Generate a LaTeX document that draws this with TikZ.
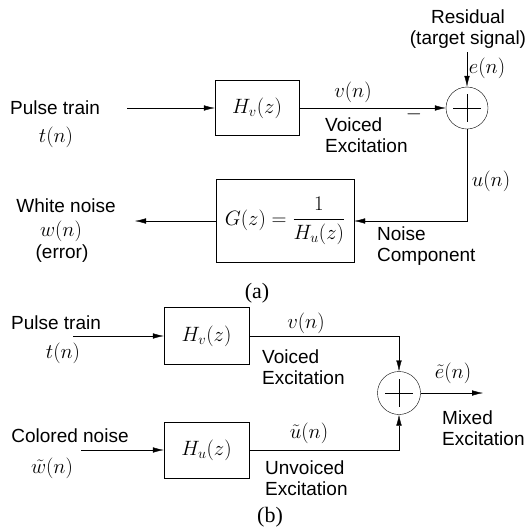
\documentclass[tikz,border=0pt]{standalone}
\usepackage{amsmath}
\usepackage{fontspec}
\setmainfont{Liberation Sans}
\newfontfamily\capfont{Liberation Serif}
\usetikzlibrary{positioning,arrows.meta,calc}

\tikzset{
  blk/.style={draw,thin,minimum width=84pt,minimum height=55pt,inner sep=0pt,
    font=\fontsize{21.5}{24}\selectfont},
  sumnode/.style={draw,thin,circle,minimum size=42pt,inner sep=0pt},
  txt/.style={font=\fontsize{19}{20.5}\selectfont,inner sep=0pt},
  mth/.style={font=\fontsize{21.5}{24}\selectfont,inner sep=0pt},
  captxt/.style={font=\capfont\fontsize{22}{24}\selectfont,inner sep=0pt},
  sig/.style={thin,-{Latex[length=11pt,width=5.5pt]}},
}

\begin{document}
\begin{tikzpicture}[x=1pt,y=-1pt]
  \useasboundingbox (0,0) rectangle (525,531);

  % (a) analysis
  \node[blk] (hva) at (257,108) {$H_v(z)$};
  \node[sumnode] (sa) at (467,108) {};
  \draw[thin] ($(sa)+(0,-14)$) -- ($(sa)+(0,14)$) ($(sa)+(-14,0)$) -- ($(sa)+(14,0)$);
  \node[blk,minimum width=138pt,minimum height=83pt] (ga) at (285,221) {$G(z)=\dfrac{1}{H_u(z)}$};

  \node[txt] (pta) at (55,108) {Pulse train};
  \node[mth] (ta) at (56,137) {$t(n)$};
  \coordinate (ina) at (127,108);
  \draw[sig] (ina) -- (hva);

  \draw[sig] (hva) -- (sa);
  \node[mth] (va) at (353,92) {$v(n)$};
  \node[txt,anchor=west,align=left] (vea) at (325,135) {Voiced\\Excitation};
  \node[mth] (minus) at (414,114) {$-$};

  \node[txt,align=center] (res) at (468,29) {Residual\\(target signal)};
  \coordinate (ea) at (467,52);
  \draw[sig] (ea) -- (sa);
  \node[mth] (ela) at (487,68) {$e(n)$};

  \draw[sig] (sa.south) |- (ga.east);
  \node[mth] (ua) at (491,181) {$u(n)$};
  \node[txt,anchor=west,align=left] (nca) at (377,246) {Noise\\Component};

  \coordinate (outa) at (135,221);
  \draw[sig] (ga) -- (outa);
  \node[txt] (wna) at (66,206) {White noise};
  \node[mth] (wa) at (61,231) {$w(n)$};
  \node[txt] (erra) at (62,254) {(error)};

  \node[captxt] (capa) at (257,293) {(a)};

  % (b) synthesis
  \node[blk,minimum width=85pt,minimum height=57pt] (hvb) at (206.5,336) {$H_v(z)$};
  \node[blk,minimum width=85pt,minimum height=56pt] (hub) at (206.5,450) {$H_u(z)$};
  \node[sumnode,minimum size=43pt] (sb) at (399,393) {};
  \draw[thin] ($(sb)+(0,-14)$) -- ($(sb)+(0,14)$) ($(sb)+(-14,0)$) -- ($(sb)+(14,0)$);

  \node[txt] (ptb) at (56,323) {Pulse train};
  \node[mth] (tb) at (63,353) {$t(n)$};
  \coordinate (inb) at (73,336);
  \draw[sig] (inb) -- (hvb);

  \node[txt] (cnb) at (70,436) {Colored noise};
  \node[mth] (wb) at (52,468) {$\tilde{w}(n)$};
  \coordinate (inc) at (81,450);
  \draw[sig] (inc) -- (hub);

  \draw[sig] (hvb) -| (sb.north);
  \draw[sig] (hub) -| (sb.south);
  \node[mth] (vb) at (306,323) {$v(n)$};
  \node[mth] (ub) at (309,433) {$\tilde{u}(n)$};
  \node[txt,anchor=west,align=left] (veb) at (262,367) {Voiced\\Excitation};
  \node[txt,anchor=west,align=left] (uvb) at (265,478) {Unvoiced\\Excitation};

  \coordinate (outb) at (483,393);
  \draw[sig] (sb) -- (outb);
  \node[mth] (eb) at (453,373) {$\tilde{e}(n)$};
  \node[txt,anchor=west,align=left] (mxb) at (442,428) {Mixed\\Excitation};

  \node[captxt] (capb) at (270,517) {(b)};
\end{tikzpicture}
\end{document}
